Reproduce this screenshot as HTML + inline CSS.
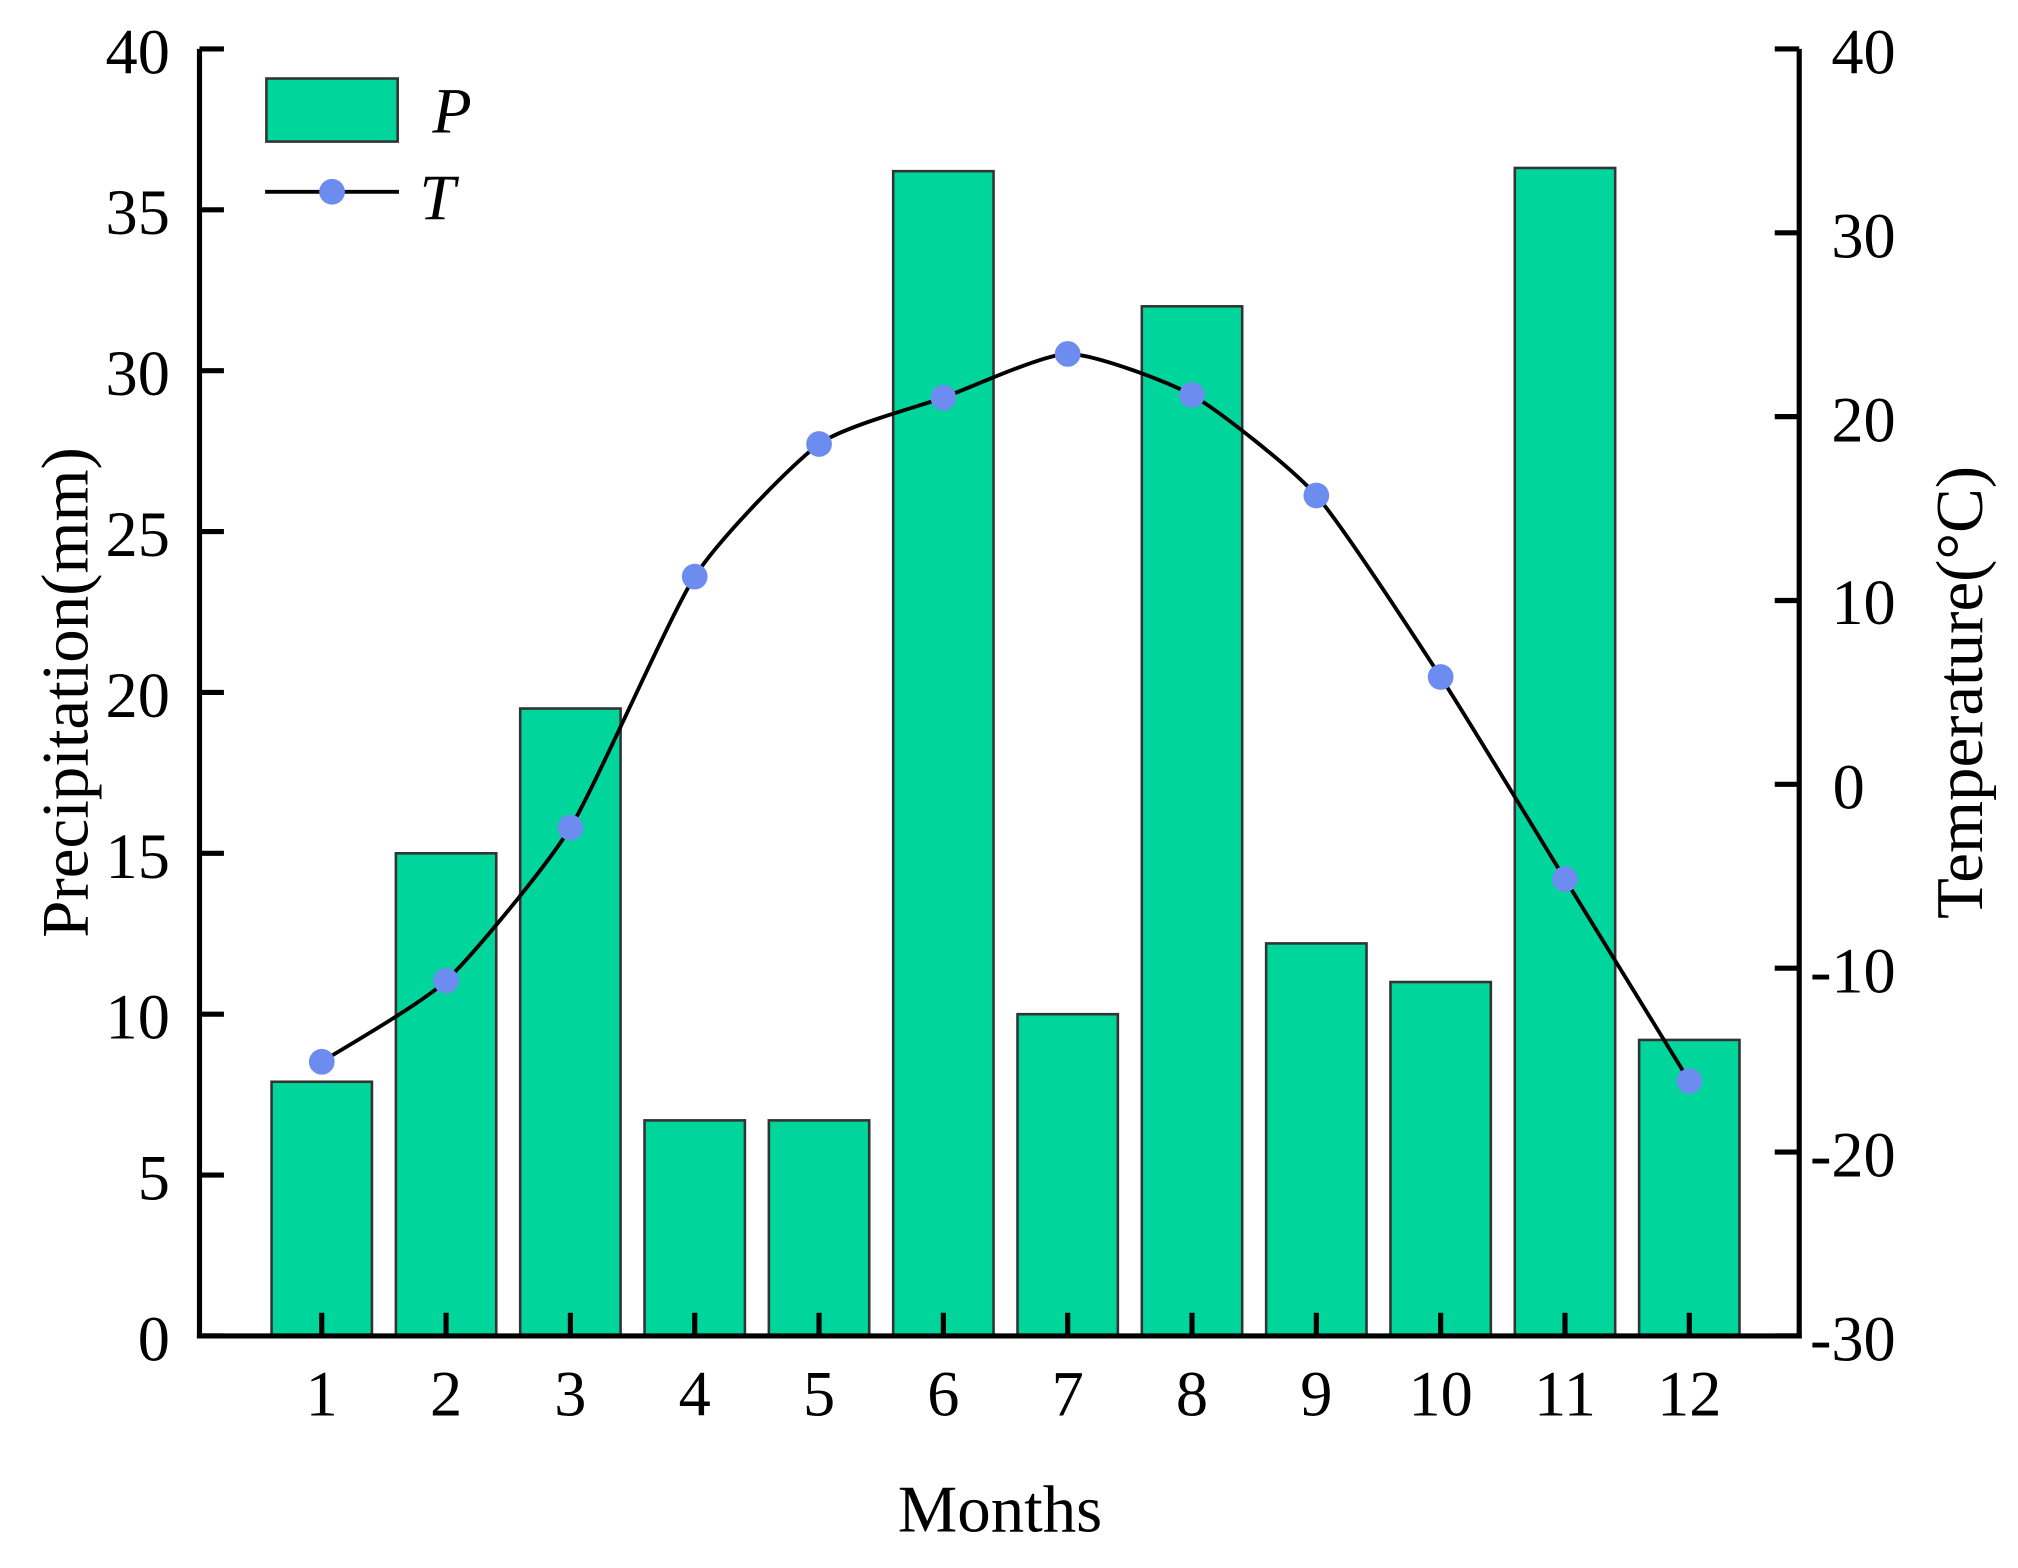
<!DOCTYPE html>
<html><head><meta charset="utf-8"><style>
html,body{margin:0;padding:0;background:#fff;}
svg{display:block;}
text{font-family:"Liberation Serif",serif;fill:#000;}
</style></head><body>
<svg width="2018" height="1568" viewBox="0 0 1568 1218.3" preserveAspectRatio="none" xmlns="http://www.w3.org/2000/svg">
<g id="bars" fill="#00d59b" stroke="#333" stroke-width="2"></g>
<path id="line" fill="none" stroke="#000" stroke-width="3"/>
<g id="dots" fill="#6c8cf0"></g>
<g stroke="#000" stroke-width="4" fill="none">
<line x1="155" y1="38" x2="155" y2="1040"/>
<line x1="1398" y1="38" x2="1398" y2="1040"/>
<line x1="153" y1="1038" x2="1400" y2="1038"/>
</g>
<g id="ticks" stroke="#000" stroke-width="4"></g>
<g font-size="50" text-anchor="end">
<text x="132" y="57">40</text><text x="132" y="182">35</text><text x="132" y="307">30</text><text x="132" y="432">25</text><text x="132" y="557">20</text><text x="132" y="682">15</text><text x="132" y="807">10</text><text x="132" y="932">5</text><text x="132" y="1057">0</text>
</g>
<g font-size="50" text-anchor="end">
<text x="1473" y="57">40</text><text x="1473" y="200">30</text><text x="1473" y="343">20</text><text x="1473" y="485">10</text><text x="1449" y="628">0</text><text x="1473" y="771">-10</text><text x="1473" y="914">-20</text><text x="1473" y="1057">-30</text>
</g>
<g id="xl" font-size="50" text-anchor="middle"></g>
<text x="777" y="1190" font-size="52" text-anchor="middle">Months</text>
<text transform="translate(68,538) rotate(-90)" font-size="52" text-anchor="middle">Precipitation(mm)</text>
<text transform="translate(1540,538) rotate(-90)" font-size="52" text-anchor="middle">Temperature(°C)</text>
<rect x="207" y="61" width="102" height="49" fill="#00d59b" stroke="#333" stroke-width="2"/>
<text x="336" y="103" font-size="50" font-style="italic">P</text>
<line x1="206" y1="149" x2="310" y2="149" stroke="#000" stroke-width="3"/>
<circle cx="258" cy="149" r="10" fill="#6c8cf0"/>
<text x="326" y="170" font-size="50" font-style="italic">T</text>
<script>
var ns="http://www.w3.org/2000/svg";
var P=[7.9,15,19.5,6.7,6.7,36.2,10,32,12.2,11,36.3,9.2];
var TY=[825,762,643,448,345,309,275,307,385,526,683,840];
var bars=document.getElementById('bars'),dots=document.getElementById('dots'),ticks=document.getElementById('ticks'),xl=document.getElementById('xl');
function el(p,t,a,txt){var e=document.createElementNS(ns,t);for(var k in a)e.setAttribute(k,a[k]);if(txt)e.textContent=txt;p.appendChild(e);return e;}
var xs=[];
for(var i=0;i<12;i++){var x=250+i*96.6;xs.push(x);
var h=P[i]*25;el(bars,'rect',{x:x-39,y:1038-h,width:78,height:h});
el(ticks,'line',{x1:x,y1:1038,x2:x,y2:1020});
el(xl,'text',{x:x,y:1100},String(i+1));}
for(var v=0;v<=40;v+=5){var y=1038-v*25;el(ticks,'line',{x1:155,y1:y,x2:174,y2:y});}
for(var j=0;j<=7;j++){var y=38+j*1000/7;el(ticks,'line',{x1:1379,y1:y,x2:1398,y2:y});}
var d='M'+xs[0]+' '+TY[0];
for(var i=0;i<11;i++){var p0=i>0?[xs[i-1],TY[i-1]]:[xs[i],TY[i]],p1=[xs[i],TY[i]],p2=[xs[i+1],TY[i+1]],p3=i<10?[xs[i+2],TY[i+2]]:p2;
var c1=[p1[0]+(p2[0]-p0[0])/10,p1[1]+(p2[1]-p0[1])/10],c2=[p2[0]-(p3[0]-p1[0])/10,p2[1]-(p3[1]-p1[1])/10];
d+=' C'+c1+' '+c2+' '+p2;}
document.getElementById('line').setAttribute('d',d);
for(var i=0;i<12;i++)el(dots,'circle',{cx:xs[i],cy:TY[i],r:10});
</script>
</svg>
</body></html>
